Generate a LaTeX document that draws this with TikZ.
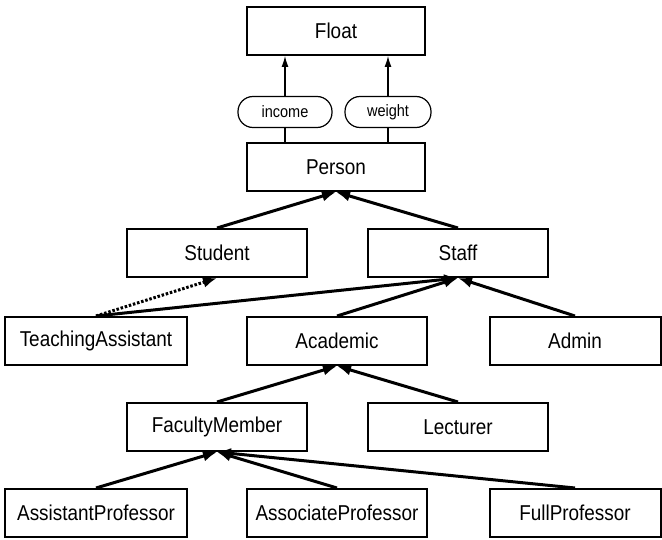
\documentclass[tikz,border=0pt]{standalone}
\usepackage{fontspec}
\setmainfont{Liberation Sans}
\newfontfamily\narrowsans[FakeStretch=0.88]{Liberation Sans}
\usetikzlibrary{arrows.meta}
\begin{document}
\begin{tikzpicture}[x=1pt,y=-1pt,
  box/.style={draw,line width=2pt,minimum height=48pt,inner sep=0pt,
    font=\narrowsans\fontsize{21.5}{24}\selectfont},
  pill/.style={draw,line width=1.2pt,fill=white,rounded corners=15pt,
    minimum height=31pt,inner sep=0pt,font=\narrowsans\fontsize{16.5}{19}\selectfont},
  isa/.style={line width=3pt,-{Latex[length=14pt,width=11pt]}},
  maybe/.style={isa,dash pattern=on 2.5pt off 1.8pt},
  attr/.style={line width=1.2pt,-{Latex[length=11pt,width=7pt]}}]
\useasboundingbox (0,0) rectangle (662,540);

% class boxes
\node[box,minimum width=178pt] (float)  at (336,31)  {Float};
\node[box,minimum width=178pt] (person) at (336,167) {Person};
\node[box,minimum width=180pt] (student) at (217,253) {Student};
\node[box,minimum width=180pt] (staff)   at (458,253) {Staff};
\node[box,minimum width=182pt] (ta)       at (96,341)  {TeachingAssistant};
\node[box,minimum width=180pt] (academic) at (337,341) {Academic};
\node[box,minimum width=171pt] (admin)    at (575,341) {Admin};
\node[box,minimum width=180pt] (faculty)  at (217,427) {FacultyMember};
\node[box,minimum width=180pt] (lecturer) at (458,427) {Lecturer};
\node[box,minimum width=182pt] (asst)  at (96,513)  {AssistantProfessor};
\node[box,minimum width=180pt] (assoc) at (337,513) {AssociateProfessor};
\node[box,minimum width=171pt] (full)  at (575,513) {FullProfessor};

% attribute labels
\node[pill,minimum width=94pt] (income) at (285,112) {income};
\node[pill,minimum width=86pt] (weight) at (388,112) {weight};

% attributes of Person
\draw[line width=1.2pt] (income.south) -- (income.south |- person.north);
\draw[attr] (income.north) -- (income.north |- float.south);
\draw[line width=1.2pt] (weight.south) -- (weight.south |- person.north);
\draw[attr] (weight.north) -- (weight.north |- float.south);

% subclass links
\draw[isa] (student.north) -- (person.south);
\draw[isa] (staff.north) -- (person.south);
\draw[maybe] (ta.north) -- (student.south);
\draw[isa] (ta.north) -- (staff.south);
\draw[isa] (academic.north) -- (staff.south);
\draw[isa] (admin.north) -- (staff.south);
\draw[isa] (faculty.north) -- (academic.south);
\draw[isa] (lecturer.north) -- (academic.south);
\draw[isa] (asst.north) -- (faculty.south);
\draw[isa] (assoc.north) -- (faculty.south);
\draw[isa] (full.north) -- (faculty.south);
\end{tikzpicture}
\end{document}
